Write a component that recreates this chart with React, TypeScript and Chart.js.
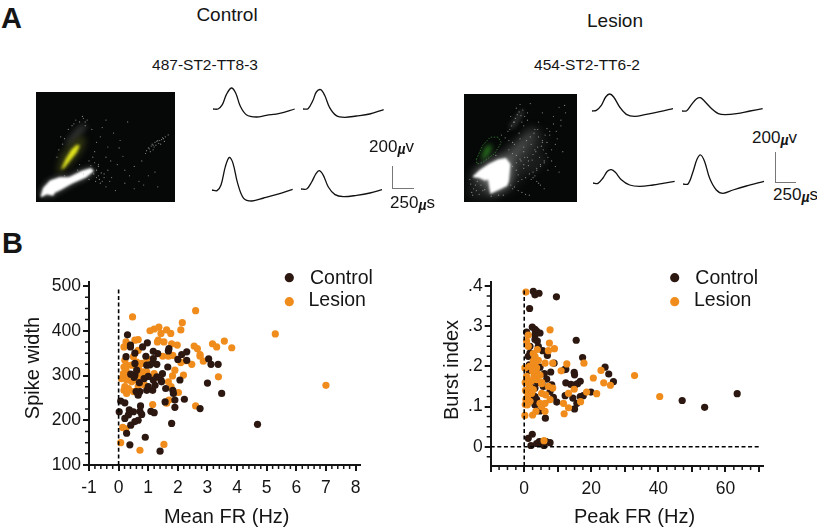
import React, { useEffect, useRef } from "react";
import { Chart, registerables } from "chart.js";

Chart.register(...registerables);

// ---------- Panel B data ----------
const controlMeanFR = [.30,.40,.40,.81,.97,.25,.55,.55,.92,1.17,1.32,1.70,1.68,2.13,2.30,2.00,1.17,1.15,1.29,.95,1.06,1.66,2.30,3.04,3.12,3.36,3.00,3.48,2.22,1.90,1.90,2.75,1.79,4.69,2.07,1.83,1.85,1.57,1.43,1.48,1.45,1.59,1.29,1.17,1.23,.95,1.15,1.00,.55,.61,.41,.52,.70,.59,.72,.66,.86,.07,.21,.02,.36,.21,.33,.50,.72,.74,.78,.66,.55,.41,.27,.38,.90,1.40,1.09,1.20,1.00];
const controlSpikeWidth = [391,368,364,364,373,342,350,327,343,354,349,360,355,347,353,336,338,328,325,323,324,319,334,337,325,325,283,260,247,245,229,226,193,191,290,267,260,241,290,304,286,271,297,290,278,267,267,275,301,312,303,296,284,264,264,256,293,243,239,219,223,204,212,219,220,232,213,200,197,189,171,145,162,131,220,217,298];
const lesionMeanFR = [.47,2.6,2.15,2.1,5.29,1.36,1.2,1.06,1.62,1.43,1.76,1.34,1.31,1.53,1.79,1.98,.66,.55,.25,.18,3.17,3.31,3.57,3.82,2.55,2.66,2.75,2.75,2.86,2.47,2.27,2.1,1.49,1.68,1.83,1.9,1.82,2.19,3.37,7.0,2.02,2.6,1.7,1.62,1.15,1.53,.72,.07,.14,.21,.18,.25,.16,.1,.27,.44,.55,.33,.67,.78,.72,.83,.95,.83,.21,.33,.27,.18,.5,.66,.89,.5,.66,.95,1.2,1.37,1.68,1.77,.61,.44,.27,.72,.6,.24,.35];
const lesionSpikeWidth = [431,445,418,402,393,408,404,400,402,394,394,379,375,375,371,368,380,379,375,364,371,364,377,362,366,360,347,343,332,325,333,329,343,343,345,312,299,301,297,278,262,232,245,238,235,146,133,150,184,334,319,312,304,293,290,286,290,301,316,327,304,308,308,301,275,271,260,267,264,275,278,342,356,338,304,295,286,275,330,323,323,295,301,181,368];

const controlPeakFR = [2.7,3.2,4.4,9.6,1.6,2.4,3.2,.7,3.7,4.7,3.2,3.2,3.9,15.5,4.2,1.7,5.5,6.9,1.7,1.2,17.4,8.9,4.7,1.5,1.4,7.9,6,6.7,24.1,25.2,26.6,12,12.4,14.9,15,12.4,13.9,15.2,15.9,16.7,12.2,14.5,15.7,15,16.7,17.6,19.9,47.1,53.8,63.5,8.7,9.7,3.2,3.2,3.7,3.2,4.7,6.3,3.2,4.2,5.7,8.2,7.7,1.7,1.2,1.7,1.2,2.4,2,3.7,4.5,5.2,5.9,6.5,7.7];
const controlBurst = [.387,.378,.382,.373,.344,.298,.292,.285,.288,.283,.279,.267,.263,.265,.25,.25,.239,.227,.233,.225,.222,.208,.198,.204,.19,.186,.182,.168,.198,.181,.162,.192,.193,.185,.179,.159,.155,.154,.157,.163,.127,.121,.108,.094,.125,.127,.136,.115,.098,.132,.123,.111,.146,.125,.117,.104,.089,.071,.163,.16,.15,.154,.138,.158,.142,.125,.021,.031,.003,.008,.013,.008,.003,.013,.01];
const lesionPeakFR = [.5,7.7,1.2,7.5,.7,9,1.2,3.9,2.7,7.2,3.2,4.2,17.8,12.7,8.5,6.2,11,3.2,2.2,3.7,2.5,3.9,.7,.2,.9,2.9,1.4,5.2,32.9,22.9,20.6,23.7,25.7,14.9,13.2,18.6,21.6,40.4,11.7,11.9,13.2,16.8,.2,2.5,3.5,6.2,5.2,6.2,1.7,.9,.5,2.2,2.7,7.2,8.5,6.4,5.2,1.7,5.9,2.2,3.7,4.7,2.7,5.2,4.7,7.7,.3,.4,1.0,3.0,1.6,.3,.8];
const lesionBurst = [.385,.291,.278,.258,.263,.244,.25,.242,.232,.239,.225,.215,.208,.206,.208,.208,.189,.208,.2,.196,.188,.182,.175,.196,.167,.175,.158,.16,.177,.19,.171,.159,.153,.143,.133,.136,.132,.125,.108,.082,.097,.112,.078,.079,.088,.088,.1,.108,.113,.104,.117,.133,.142,.15,.146,.129,.157,.148,.015,.164,.167,.178,.213,.133,.108,.117,.16,.14,.125,.19,.2,.105,.11];

const meanFRMajorTicks = [-1,0,1,2,3,4,5,6,7,8];
const meanFRMinorTicks = [-.8,-.6,-.4,-.2,.2,.4,.6,.8,1.2,1.4,1.6,1.8,2.2,2.4,2.6,2.8,3.2,3.4,3.6,3.8,4.2,4.4,4.6,4.8,5.2,5.4,5.6,5.8,6.2,6.4,6.6,6.8,7.2,7.4,7.6,7.8];
const spikeMajorTicks = [100,200,300,400,500];
const spikeMinorTicks = [125,150,175,225,250,275,325,350,375,425,450,475];
const peakFRMajorTicks = [-10,0,10,20,30,40,50,60,70];
const peakFRLabelled = [0,20,40,60];
const peakFRMinorTicks = [-7.5,-5,-2.5,2.5,5,7.5,12.5,15,17.5,22.5,25,27.5,32.5,35,37.5,42.5,45,47.5,52.5,55,57.5,62.5,65,67.5];
const burstMajorTicks = [0,.1,.2,.3,.4];
const burstMinorTicks = [-.025,.025,.05,.075,.125,.15,.175,.225,.25,.275,.325,.35,.375];

// ---------- Panel A waveforms: time (µs), voltage (µV) ----------
const wave1T = [0,60,112,160,220,272,328,400,520,640,800,980];
const wave1V = [0,0,39,129,189,144,24,-51,-72,-57,-39,0];
const wave2T = [0,60,120,160,212,260,320,400,500,640,800,968];
const wave2V = [0,3,78,153,174,123,12,-60,-75,-63,-45,-6];
const wave3T = [0,60,108,160,208,252,308,380,480,620,780,968];
const wave3V = [0,-6,45,210,294,240,60,-75,-99,-72,-39,6];
const wave4T = [0,68,128,180,220,268,328,408,508,668,828,972];
const wave4V = [0,0,63,138,165,123,18,-51,-69,-57,-36,-6];
const wave5T = [0,52,112,164,212,260,332,412,512,652,812,972];
const wave5V = [0,6,51,126,153,126,36,-30,-48,-30,-6,21];
const wave6T = [0,56,116,176,220,268,356,436,516,656,816,968];
const wave6V = [0,3,60,111,120,90,21,-24,-33,-24,0,21];
const wave7T = [0,60,120,172,220,268,340,440,560,720,840,980];
const wave7V = [0,-3,45,105,120,96,30,-18,-30,-18,-3,15];
const wave8T = [0,60,120,168,212,260,320,400,480,600,760,972];
const wave8V = [0,0,111,222,261,201,51,-54,-84,-54,-18,24];

// ---------- Panel A cluster plots: regions and events (feature 1, feature 2) ----------
const ctlWhiteX = [0.7,3.3,10.7,20.7,30.7,44,54,57.3,49,34,22.3,15.7,14,7.3,1.3];
const ctlWhiteY = [2.3,10.7,19,22.3,22.3,29,32.3,29,22.3,15.7,9,5.7,2.3,4,0.7];
const ctlHaloX = [17.3,22.3,34,44,49,44,30.7,22.3];
const ctlHaloY = [27.3,47.3,60.7,67.3,62.3,49,34,27.3];
const ctlBandX = [27.3,37.3,47.3,49,39,29];
const ctlBandY = [59,72.3,80.7,75.7,65.7,55.7];
const ctlCoreX = [22.3,27.3,33.3,39,42.3,39,32.3,25.7];
const ctlCoreY = [30.7,42.3,52.3,57.3,56.7,49,40.7,32.3];
const ctlEventsX = [115,118,120,122,124,126,127,129,131,133,120,117,128,112,136,60,64,58,70,75,72,82,90,95,88,100,105,110,62,68,52,56,48,66,78,85,93,60,70,80,100,115,125,45,50,55,42,40,52,64,76,90,108,122,70,34,30,26,46,58,84,119,121,125,123,116,113,130,132,60,62,65,63,57,59,66,68,62,72,74,54,46,48,38,36,42,18,20,24,26,22];
const ctlEventsY = [54,56,57,60,61,59,62,63,64,66,52,50,58,48,68,60,66,50,44,40,55,36,30,24,45,34,18,14,34,26,40,44,78,76,70,62,82,22,12,8,10,24,12,88,84,74,36,30,20,16,22,16,40,28,84,78,74,24,26,38,54,58,55,62,57,53,51,65,61,30,24,27,20,26,18,18,22,36,30,18,35,86,82,84,80,82,44,52,58,64,66];
const lesWhiteX = [5,12.3,22.3,32.3,40.7,45.7,44,42.3,32.3,24,21.7,18.3,12.3,5.7];
const lesWhiteY = [23.3,30,36.7,41.7,43.3,36.7,18.3,13.3,8.3,4.3,20,19,21.7,22.3];
const lesHazeX = [1,6,32,62,78,80,70,45,22];
const lesHazeY = [2,22,45,62,72,62,38,12,2];
const lesBand1X = [44,57.3,60.7,49];
const lesBand1Y = [76.7,95,93.3,75];
const lesBand2X = [39,67,76,56,42];
const lesBand2Y = [45,75,73,48,35];
const lesBand3X = [64,82,85,70];
const lesBand3Y = [28,47,42,27];
const lesGateX = [9,15.7,24,32.3,35.7,29,15.7,9.7];
const lesGateY = [41.7,56.7,65.7,65.7,60,48.3,38.3,36.7];
const lesGreenX = [14,19,25.7,24,17.3];
const lesGreenY = [43.3,55,58.3,50,41.7];
const lesEventsX = [95,100,105,98,92,88,85,80,76,72,68,64,60,90,94,86,82,78,74,70,66,62,58,54,50,46,52,56,60,64,48,44,40,36,60,65,70,75,80,85,84,88,92,96,100,104,70,74,78,82,86,55,58,61,64,67,52,54,46,48,4,6,8,10,3,12,5,16,50,54,58,62,66,90,94,98,102,72,76,80,47,49,51,53,55,57,59,43,45,50,56,44,48,52,60,63,67,71,75,79,83,57,61,65,69,73,77,81,74,78,82,68,72,76,7,9,2,14,18,25,33,38,30,48,52,56,60];
const lesEventsY = [72,78,92,98,88,68,75,60,66,52,58,44,50,52,58,44,40,36,32,28,26,22,20,18,82,88,97,101,78,84,60,62,65,68,32,40,47,55,62,60,48,72,80,64,84,100,22,18,14,10,30,70,82,88,92,102,30,25,14,10,6,10,14,18,15,4,3,8,12,8,6,4,3,40,34,28,50,74,82,92,78,82,86,90,93,89,95,72,74,58,64,52,48,46,55,62,66,70,74,56,68,40,44,35,41,50,44,52,30,34,38,20,24,16,24,8,20,14,9,2,3,3,46,34,38,42,36];

function zip(xs: number[], ys: number[]) {
  return xs.map((x, i) => ({ x, y: ys[i] }));
}

const FONT = "'Liberation Sans', Arial, sans-serif";
const INK = "#151515";
const CONTROL = "#2c1810";
const LESION = "#f08c1c";

// Fills a closed region from a dataset's points as positioned by the scales.
const regionPlugin = {
  id: "regions",
  beforeDatasetsDraw(chart: any) {
    const ctx = chart.ctx;
    chart.data.datasets.forEach((ds: any, i: number) => {
      if (!ds.region) return;
      const pts = chart.getDatasetMeta(i).data;
      ctx.save();
      ctx.beginPath();
      pts.forEach((p: any, k: number) => (k ? ctx.lineTo(p.x, p.y) : ctx.moveTo(p.x, p.y)));
      ctx.closePath();
      if (ds.regionFill) {
        ctx.filter = `blur(${ds.regionBlur ?? 1.5}px)`;
        ctx.fillStyle = ds.regionFill;
        ctx.fill();
        ctx.filter = "none";
      }
      if (ds.regionStroke) {
        ctx.strokeStyle = ds.regionStroke;
        ctx.lineWidth = 0.7;
        ctx.setLineDash([1.5, 1.5]);
        ctx.stroke();
      }
      ctx.restore();
    });
  },
};

const extrasPlugin = {
  id: "extras",
  afterDraw(chart: any, _a: any, opts: any) {
    const ctx = chart.ctx;
    if (!opts || !opts.items) return;
    ctx.save();
    // minor ticks
    ctx.strokeStyle = INK;
    ctx.lineWidth = 1.5;
    const xs = chart.scales.x, ys = chart.scales.y;
    ctx.beginPath();
    opts.minorX.forEach((v: number) => {
      const p = xs.getPixelForValue(v);
      ctx.moveTo(p, xs.top);
      ctx.lineTo(p, xs.top + 4);
    });
    opts.minorY.forEach((v: number) => {
      const p = ys.getPixelForValue(v);
      ctx.moveTo(ys.right, p);
      ctx.lineTo(ys.right - 4, p);
    });
    ctx.stroke();
    // legend
    ctx.textBaseline = "middle";
    ctx.textAlign = "left";
    ctx.font = `19.5px ${FONT}`;
    opts.items.forEach((it: any) => {
      const ds = chart.data.datasets[it.dataset];
      ctx.fillStyle = ds.backgroundColor;
      ctx.beginPath();
      ctx.arc(it.mx, it.my, 4.6, 0, Math.PI * 2);
      ctx.fill();
      ctx.fillStyle = INK;
      ctx.fillText(ds.label, it.tx, it.ty);
    });
    // axis titles
    ctx.font = `20px ${FONT}`;
    ctx.textAlign = "center";
    ctx.fillText(opts.xTitle.text, opts.xTitle.x, opts.xTitle.y);
    ctx.translate(opts.yTitle.x, opts.yTitle.y);
    ctx.rotate(-Math.PI / 2);
    ctx.fillText(opts.yTitle.text, 0, 0);
    ctx.restore();
  },
};

function useChart(make: () => any) {
  const ref = useRef<HTMLCanvasElement>(null);
  useEffect(() => {
    const c = new Chart(ref.current as any, make());
    return () => c.destroy();
  }, []);
  return ref;
}

function scatterConfig(p: any) {
  const pointSet = (label: string, xs: number[], ys: number[], color: string, order: number) => ({
    type: "scatter",
    label,
    data: zip(xs, ys),
    backgroundColor: color,
    borderColor: color,
    borderWidth: 0,
    pointRadius: 3.6,
    order,
  });
  const dashed = (data: any[]) => ({
    type: "scatter",
    label: "",
    data,
    showLine: true,
    borderColor: "#000",
    borderWidth: 1.6,
    borderDash: [4, 2.6],
    pointRadius: 0,
    order: 0,
  });
  return {
    type: "scatter",
    data: {
      datasets: [
        pointSet("Control", p.cx, p.cy, CONTROL, p.controlOrder),
        pointSet("Lesion", p.lx, p.ly, LESION, p.lesionOrder),
        ...p.dashes.map(dashed),
      ],
    },
    options: {
      animation: false,
      responsive: false,
      layout: { padding: { top: p.padTop, right: p.padRight, left: 0, bottom: 0 } },
      plugins: { legend: { display: false }, tooltip: { enabled: false }, extras: p.extras },
      scales: {
        x: {
          type: "linear",
          min: p.xMin,
          max: p.xMax,
          border: { color: INK, width: 2 },
          grid: { drawOnChartArea: false, color: INK, lineWidth: 2, tickLength: 6 },
          ticks: {
            color: INK,
            font: { family: FONT, size: 17.5 },
            padding: 7,
            maxRotation: 0,
            autoSkip: false,
            callback: p.xLabel,
          },
          afterBuildTicks: (s: any) => { s.ticks = p.xMajor.map((value: number) => ({ value })); },
          afterFit: (s: any) => { s.height = p.bottomH; },
        },
        y: {
          type: "linear",
          min: p.yMin,
          max: p.yMax,
          border: { color: INK, width: 2 },
          grid: { drawOnChartArea: false, color: INK, lineWidth: 2, tickLength: 6 },
          ticks: {
            color: INK,
            font: { family: FONT, size: 17.5 },
            padding: 2,
            autoSkip: false,
            callback: p.yLabel,
          },
          afterBuildTicks: (s: any) => { s.ticks = p.yMajor.map((value: number) => ({ value })); },
          afterFit: (s: any) => { s.width = p.leftW; },
        },
      },
    },
    plugins: [extrasPlugin],
  };
}

function Abs({ left, top, width, height, make }: any) {
  const ref = useChart(make);
  return <canvas ref={ref} width={width} height={height} style={{ position: "absolute", left, top, width, height, display: "block" }} />;
}

function Wave({ left, top, t, v }: any) {
  return (
    <Abs
      left={left - 2}
      top={top - 35}
      width={86}
      height={50}
      make={() => ({
        type: "line",
        data: {
          datasets: [{
            data: zip(t, v),
            borderColor: "#111",
            borderWidth: 1.3,
            pointRadius: 0,
            tension: 0.35,
          }],
        },
        options: {
          animation: false,
          responsive: false,
          parsing: false,
          plugins: { legend: { display: false }, tooltip: { enabled: false } },
          scales: {
            x: { type: "linear", display: false, min: -24, max: 1008 },
            y: { type: "linear", display: false, min: -135, max: 315 },
          },
        },
      })}
    />
  );
}

function Cluster({ left, top, width, height, regions, ex, ey }: any) {
  return (
    <div style={{ position: "absolute", left, top, width, height, background: "#060808" }}>
      <Abs
        left={0}
        top={0}
        width={width}
        height={height}
        make={() => ({
          type: "scatter",
          data: {
            datasets: [
              {
                label: "events",
                data: zip(ex, ey),
                pointRadius: 0.6,
                borderWidth: 0,
                backgroundColor: "rgba(190,190,190,0.7)",
              },
              ...regions.map((r: any) => ({
                label: r.label,
                data: zip(r.x, r.y),
                pointRadius: 0,
                showLine: false,
                region: true,
                regionFill: r.fill,
                regionStroke: r.stroke,
                regionBlur: r.blur,
              })),
            ],
          },
          options: {
            animation: false,
            responsive: false,
            plugins: { legend: { display: false }, tooltip: { enabled: false } },
            scales: {
              x: { type: "linear", display: false, min: 0, max: width },
              y: { type: "linear", display: false, min: 0, max: height },
            },
          },
          plugins: [regionPlugin],
        })}
      />
    </div>
  );
}

function Label({ x, cy, size = 17, center, bold, children }: any) {
  return (
    <div
      style={{
        position: "absolute",
        left: x,
        top: cy,
        transform: center ? "translate(-50%,-50%)" : "translateY(-50%)",
        fontFamily: FONT,
        fontSize: size,
        fontWeight: bold ? 700 : 400,
        lineHeight: 1,
        color: INK,
        whiteSpace: "nowrap",
      }}
    >
      {children}
    </div>
  );
}

const Mu = () => <span style={{ fontSize: 14, fontStyle: "italic", fontWeight: 700, position: "relative", top: 2 }}>µ</span>;

function Bar({ x, y, w, h }: any) {
  return <div style={{ position: "absolute", left: x, top: y, width: w, height: h, background: "#777" }} />;
}

export default function App() {
  const ctlRegions = [
    { label: "band", x: ctlBandX, y: ctlBandY, fill: "rgba(125,125,125,0.5)", blur: 3 },
    { label: "halo", x: ctlHaloX, y: ctlHaloY, fill: "rgba(75,80,25,0.6)", blur: 3 },
    { label: "core", x: ctlCoreX, y: ctlCoreY, fill: "#e2e51c", blur: 1.5 },
    { label: "noiseHalo", x: ctlWhiteX, y: ctlWhiteY, fill: "rgba(200,200,200,0.6)", blur: 3 },
    { label: "noise", x: ctlWhiteX, y: ctlWhiteY, fill: "#ffffff", blur: 1 },
  ];
  const lesRegions = [
    { label: "haze", x: lesHazeX, y: lesHazeY, fill: "rgba(120,120,120,0.32)", blur: 7 },
    { label: "band1", x: lesBand1X, y: lesBand1Y, fill: "rgba(130,130,130,0.4)", blur: 2.5 },
    { label: "band2", x: lesBand2X, y: lesBand2Y, fill: "rgba(150,150,150,0.4)", blur: 5 },
    { label: "band3", x: lesBand3X, y: lesBand3Y, fill: "rgba(120,120,120,0.25)", blur: 4 },
    { label: "green", x: lesGreenX, y: lesGreenY, fill: "#2c7a20", blur: 2.5 },
    { label: "gate", x: lesGateX, y: lesGateY, stroke: "#3f8f35" },
    { label: "noiseHalo", x: lesWhiteX, y: lesWhiteY, fill: "rgba(210,210,210,0.7)", blur: 5 },
    { label: "noise", x: lesWhiteX, y: lesWhiteY, fill: "#ffffff", blur: 1.2 },
  ];

  return (
    <div style={{ position: "fixed", left: 0, top: 0, width: 817, height: 530, background: "#fff", overflow: "hidden" }}>
      <Label x={1} cy={18} size={29} bold>A</Label>
      <Label x={2} cy={243} size={29} bold>B</Label>
      <Label x={227} cy={14} size={19} center>Control</Label>
      <Label x={615} cy={20} size={19} center>Lesion</Label>
      <Label x={205} cy={65} size={15.5} center>487-ST2-TT8-3</Label>
      <Label x={587} cy={65} size={15.5} center>454-ST2-TT6-2</Label>

      <Cluster left={36} top={92} width={139} height={110} regions={ctlRegions} ex={ctlEventsX} ey={ctlEventsY} />
      <Cluster left={464} top={94} width={113} height={108} regions={lesRegions} ex={lesEventsX} ey={lesEventsY} />

      <Wave left={213.3} top={109.3} t={wave1T} v={wave1V} />
      <Wave left={303.3} top={108.7} t={wave2T} v={wave2V} />
      <Wave left={211.7} top={190} t={wave3T} v={wave3V} />
      <Wave left={301} top={188.7} t={wave4T} v={wave4V} />
      <Wave left={592.3} top={110.7} t={wave5T} v={wave5V} />
      <Wave left={682} top={110.7} t={wave6T} v={wave6V} />
      <Wave left={593.3} top={183.3} t={wave7T} v={wave7V} />
      <Wave left={683.3} top={184} t={wave8T} v={wave8V} />

      <Label x={369} cy={146}>200<Mu />v</Label>
      <Label x={390} cy={202}>250<Mu />s</Label>
      <Label x={752} cy={137}>200<Mu />v</Label>
      <Label x={773} cy={194}>250<Mu />s</Label>
      <Bar x={392} y={166} w={1} h={23} />
      <Bar x={392} y={188} w={22} h={1} />
      <Bar x={775} y={152} w={1} h={30} />
      <Bar x={775} y={182} w={21} h={1} />

      <Abs
        left={0}
        top={230}
        width={400}
        height={300}
        make={() =>
          scatterConfig({
            cx: controlMeanFR, cy: controlSpikeWidth, lx: lesionMeanFR, ly: lesionSpikeWidth,
            controlOrder: 1, lesionOrder: 2,
            dashes: [[{ x: 0, y: 100 }, { x: 0, y: 498 }]],
            xMin: -1, xMax: 8.15, yMin: 100, yMax: 509,
            padTop: 52, padRight: 40, bottomH: 65, leftW: 89,
            xMajor: meanFRMajorTicks,
            yMajor: spikeMajorTicks,
            xLabel: (v: number) => String(v),
            yLabel: (v: number) => String(v),
            extras: {
              minorX: meanFRMinorTicks,
              minorY: spikeMinorTicks,
              items: [
                { dataset: 0, mx: 289.3, my: 47.7, tx: 310, ty: 48.5 },
                { dataset: 1, mx: 289.3, my: 71.7, tx: 308.5, ty: 70.5 },
              ],
              xTitle: { text: "Mean FR (Hz)", x: 226.7, y: 287 },
              yTitle: { text: "Spike width", x: 33, y: 138 },
            },
          })
        }
      />
      <Abs
        left={420}
        top={230}
        width={397}
        height={300}
        make={() =>
          scatterConfig({
            cx: controlPeakFR, cy: controlBurst, lx: lesionPeakFR, ly: lesionBurst,
            controlOrder: 2, lesionOrder: 1,
            dashes: [
              [{ x: 0, y: -0.048 }, { x: 0, y: 0.395 }],
              [{ x: -10, y: 0 }, { x: 70.5, y: 0 }],
            ],
            xMin: -10, xMax: 71.2, yMin: -0.048, yMax: 0.41,
            padTop: 52, padRight: 54, bottomH: 64, leftW: 70.7,
            xMajor: peakFRMajorTicks,
            yMajor: burstMajorTicks,
            xLabel: (v: number) => (peakFRLabelled.includes(v) ? String(v) : ""),
            yLabel: (v: number) => (v === 0 ? "0" : "." + Math.round(v * 10)),
            extras: {
              minorX: peakFRMinorTicks,
              minorY: burstMinorTicks,
              items: [
                { dataset: 0, mx: 254.7, my: 47.7, tx: 275.3, ty: 48.5 },
                { dataset: 1, mx: 254.7, my: 71.7, tx: 274, ty: 70.5 },
              ],
              xTitle: { text: "Peak FR (Hz)", x: 214.5, y: 287 },
              yTitle: { text: "Burst index", x: 32, y: 140 },
            },
          })
        }
      />
    </div>
  );
}
